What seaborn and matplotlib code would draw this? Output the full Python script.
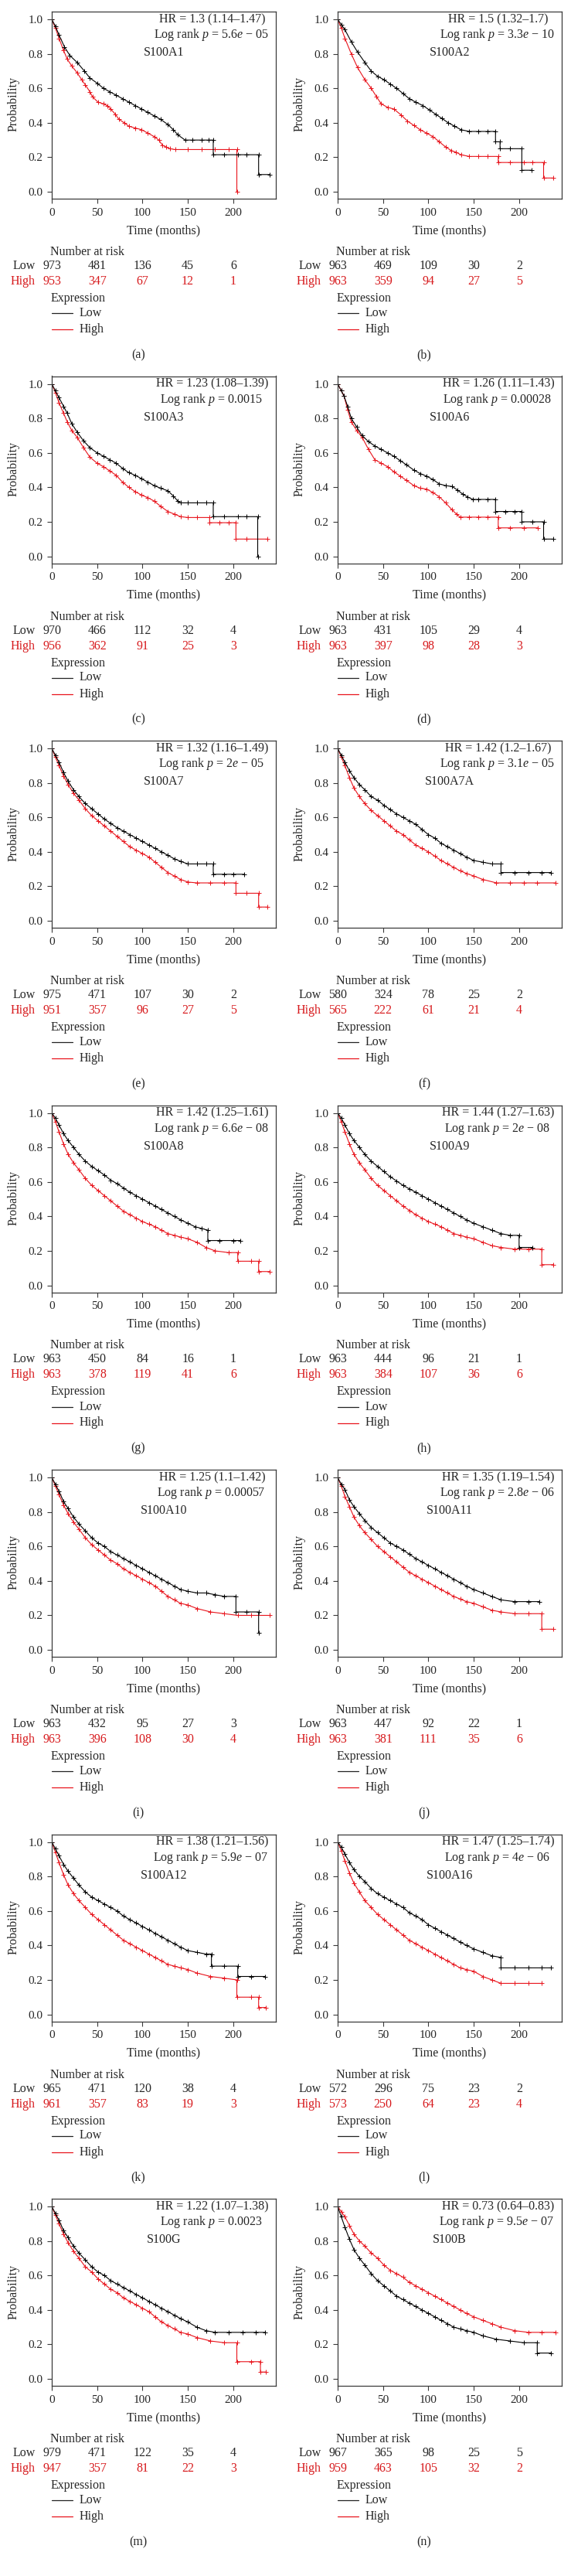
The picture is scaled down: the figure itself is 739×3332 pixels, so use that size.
import matplotlib
matplotlib.use("Agg")
import matplotlib.pyplot as plt
import matplotlib.transforms as mtransforms
import seaborn as sns
import pandas as pd

# ---------------- data ----------------
genes = ["S100A1", "S100A2", "S100A3", "S100A6", "S100A7", "S100A7A", "S100A8",
         "S100A9", "S100A10", "S100A11", "S100A12", "S100A16", "S100G", "S100B"]
panel_letters = ["(a)", "(b)", "(c)", "(d)", "(e)", "(f)", "(g)", "(h)", "(i)", "(j)",
                 "(k)", "(l)", "(m)", "(n)"]
hr_values = ["1.3 (1.14–1.47)", "1.5 (1.32–1.7)", "1.23 (1.08–1.39)", "1.26 (1.11–1.43)",
             "1.32 (1.16–1.49)", "1.42 (1.2–1.67)", "1.42 (1.25–1.61)", "1.44 (1.27–1.63)",
             "1.25 (1.1–1.42)", "1.35 (1.19–1.54)", "1.38 (1.21–1.56)", "1.47 (1.25–1.74)",
             "1.22 (1.07–1.38)", "0.73 (0.64–0.83)"]
p_values = ["5.6$e$ − 05", "3.3$e$ − 10", "0.0015", "0.00028", "2$e$ − 05", "3.1$e$ − 05",
            "6.6$e$ − 08", "2$e$ − 08", "0.00057", "2.8$e$ − 06", "5.9$e$ − 07", "4$e$ − 06",
            "0.0023", "9.5$e$ − 07"]
risk_times = [0, 50, 100, 150, 200]
risk_low = [[973, 481, 136, 45, 6], [963, 469, 109, 30, 2], [970, 466, 112, 32, 4],
            [963, 431, 105, 29, 4], [975, 471, 107, 30, 2], [580, 324, 78, 25, 2],
            [963, 450, 84, 16, 1], [963, 444, 96, 21, 1], [963, 432, 95, 27, 3],
            [963, 447, 92, 22, 1], [965, 471, 120, 38, 4], [572, 296, 75, 23, 2],
            [979, 471, 122, 35, 4], [967, 365, 98, 25, 5]]
risk_high = [[953, 347, 67, 12, 1], [963, 359, 94, 27, 5], [956, 362, 91, 25, 3],
             [963, 397, 98, 28, 3], [951, 357, 96, 27, 5], [565, 222, 61, 21, 4],
             [963, 378, 119, 41, 6], [963, 384, 107, 36, 6], [963, 396, 108, 30, 4],
             [963, 381, 111, 35, 6], [961, 357, 83, 19, 3], [573, 250, 64, 23, 4],
             [947, 357, 81, 22, 3], [959, 463, 105, 32, 2]]

# survival curves: (time in months, probability)
a_low = [(0,1.0),(4,.96),(8,.91),(14,.84),(20,.79),(28,.75),(36,.70),(42,.66),(50,.63),(57,.60),(64,.58),(71,.56),(78,.54),(85,.52),(92,.50),(99,.48),(106,.46),(113,.44),(120,.42),(128,.39),(134,.36),(139,.33),(147,.30),(155,.30),(165,.30),(173,.30),(178,.30),(178,.215),(190,.215),(205,.215),(215,.215),(228,.215),(228,.10),(240,.10)]
a_high = [(0,1.0),(4,.95),(8,.89),(13,.82),(17,.77),(22,.73),(28,.69),(33,.65),(37,.62),(42,.58),(45,.55),(51,.52),(57,.51),(61,.50),(65,.48),(70,.45),(74,.42),(80,.40),(85,.38),(92,.37),(99,.36),(106,.34),(113,.32),(118,.30),(122,.27),(126,.26),(130,.25),(136,.245),(150,.245),(165,.245),(180,.245),(195,.245),(204,.245),(204,0.0)]
b_low = [(0,1.0),(4,.97),(8,.94),(15,.87),(22,.81),(30,.75),(37,.70),(44,.67),(51,.65),(58,.625),(65,.60),(72,.57),(79,.54),(86,.52),(94,.50),(101,.475),(108,.45),(115,.425),(122,.40),(129,.38),(136,.36),(145,.35),(155,.35),(165,.35),(174,.35),(174,.29),(179,.29),(179,.25),(190,.25),(203,.25),(203,.125),(214,.125)]
b_high = [(0,1.0),(4,.95),(8,.89),(15,.80),(22,.72),(30,.65),(37,.60),(43,.55),(48,.51),(55,.49),(62,.48),(70,.445),(77,.41),(84,.385),(91,.36),(98,.34),(105,.32),(112,.29),(119,.26),(125,.24),(130,.23),(136,.215),(145,.205),(155,.205),(165,.205),(177,.205),(177,.17),(190,.17),(205,.17),(215,.17),(227,.17),(227,.08),(238,.08)]
c_low = [(0,1.0),(4,.96),(8,.92),(13,.87),(17,.83),(22,.77),(28,.72),(35,.67),(42,.63),(50,.60),(57,.58),(64,.56),(71,.54),(78,.51),(85,.485),(92,.47),(99,.45),(106,.43),(113,.41),(120,.395),(128,.38),(134,.35),(139,.32),(142,.31),(150,.31),(160,.31),(170,.31),(178,.31),(178,.23),(190,.23),(205,.23),(215,.23),(227,.23),(227,0.0)]
c_high = [(0,1.0),(4,.95),(8,.89),(13,.83),(17,.78),(22,.73),(28,.69),(35,.63),(42,.575),(50,.54),(57,.52),(64,.495),(71,.47),(78,.43),(85,.40),(92,.375),(99,.355),(106,.34),(113,.32),(120,.29),(128,.26),(135,.245),(142,.23),(150,.225),(160,.225),(174,.225),(174,.195),(185,.195),(195,.195),(203,.195),(203,.10),(215,.10),(238,.10)]
d_low = [(0,1.0),(4,.96),(7,.93),(11,.87),(15,.80),(21,.75),(27,.70),(34,.665),(41,.64),(48,.62),(55,.60),(62,.58),(69,.555),(76,.53),(84,.50),(91,.48),(98,.465),(105,.445),(112,.42),(119,.41),(126,.405),(132,.385),(138,.36),(143,.345),(149,.33),(155,.33),(165,.33),(174,.33),(174,.26),(185,.26),(195,.26),(203,.26),(203,.20),(215,.20),(227,.20),(227,.10),(238,.10)]
d_high = [(0,1.0),(4,.96),(7,.93),(11,.85),(15,.78),(21,.73),(27,.69),(34,.62),(41,.56),(48,.54),(55,.52),(62,.49),(69,.465),(76,.44),(84,.41),(91,.395),(98,.39),(105,.37),(112,.345),(119,.31),(126,.27),(131,.245),(135,.227),(145,.227),(155,.227),(165,.227),(177,.227),(177,.165),(190,.165),(205,.165),(221,.165)]
e_low = [(0,1.0),(4,.96),(8,.92),(13,.86),(18,.81),(24,.76),(30,.72),(37,.68),(44,.65),(51,.62),(58,.59),(65,.565),(72,.54),(79,.52),(86,.50),(93,.48),(100,.46),(107,.44),(114,.42),(121,.40),(128,.38),(135,.36),(142,.345),(150,.33),(160,.33),(170,.33),(178,.33),(178,.27),(190,.27),(200,.27),(212,.27)]
e_high = [(0,1.0),(4,.95),(8,.90),(13,.84),(18,.79),(24,.74),(30,.70),(37,.65),(44,.61),(51,.58),(58,.55),(65,.52),(72,.49),(79,.46),(86,.43),(93,.41),(100,.39),(107,.37),(114,.34),(121,.31),(128,.28),(135,.26),(142,.24),(150,.225),(160,.22),(175,.22),(190,.22),(203,.22),(203,.16),(215,.16),(228,.16),(228,.08),(238,.08)]
f_low = [(0,1.0),(4,.96),(8,.92),(13,.87),(18,.83),(24,.79),(30,.76),(37,.72),(44,.70),(51,.67),(58,.645),(65,.62),(72,.60),(79,.58),(86,.56),(93,.53),(100,.50),(107,.48),(114,.45),(121,.43),(128,.41),(135,.39),(142,.37),(150,.35),(160,.34),(170,.33),(180,.33),(180,.28),(195,.28),(210,.28),(225,.28),(235,.28)]
f_high = [(0,1.0),(4,.95),(8,.90),(13,.83),(18,.77),(24,.72),(30,.68),(37,.64),(44,.61),(51,.58),(58,.55),(65,.52),(72,.50),(79,.47),(86,.44),(93,.42),(100,.40),(107,.375),(114,.35),(121,.33),(128,.31),(135,.29),(142,.275),(150,.26),(160,.24),(175,.22),(190,.22),(205,.22),(220,.22),(240,.22)]
g_low = [(0,1.0),(4,.97),(8,.93),(13,.88),(18,.84),(24,.80),(30,.76),(37,.72),(44,.69),(51,.665),(58,.64),(65,.61),(72,.59),(79,.565),(86,.54),(93,.52),(100,.50),(107,.48),(114,.46),(121,.44),(128,.42),(135,.40),(142,.38),(150,.36),(158,.34),(165,.33),(172,.32),(172,.26),(185,.26),(200,.26),(208,.26)]
g_high = [(0,1.0),(4,.95),(8,.89),(13,.82),(18,.76),(24,.71),(30,.67),(37,.62),(44,.58),(51,.55),(58,.52),(65,.49),(72,.46),(79,.43),(86,.41),(93,.39),(100,.37),(107,.355),(114,.34),(121,.32),(128,.30),(135,.29),(142,.28),(150,.27),(160,.25),(170,.22),(180,.20),(195,.19),(205,.19),(205,.14),(220,.14),(228,.14),(228,.08),(240,.08)]
h_low = [(0,1.0),(4,.97),(8,.93),(13,.88),(18,.84),(24,.80),(30,.76),(37,.72),(44,.69),(51,.66),(58,.63),(65,.605),(72,.58),(79,.56),(86,.54),(93,.52),(100,.50),(107,.48),(114,.46),(121,.44),(128,.42),(135,.40),(142,.38),(150,.36),(160,.34),(170,.32),(180,.30),(190,.29),(200,.29),(200,.22),(215,.22)]
h_high = [(0,1.0),(4,.95),(8,.89),(13,.82),(18,.76),(24,.71),(30,.67),(37,.62),(44,.58),(51,.55),(58,.52),(65,.49),(72,.46),(79,.435),(86,.41),(93,.39),(100,.37),(107,.355),(114,.34),(121,.32),(128,.30),(135,.29),(142,.28),(150,.27),(160,.25),(170,.23),(180,.22),(195,.21),(210,.21),(225,.21),(225,.12),(238,.12)]
i_low = [(0,1.0),(4,.96),(8,.92),(13,.86),(18,.82),(24,.77),(30,.73),(37,.69),(44,.65),(51,.62),(58,.60),(65,.57),(72,.55),(79,.53),(86,.51),(93,.49),(100,.47),(107,.45),(114,.43),(121,.41),(128,.39),(135,.37),(142,.35),(150,.34),(160,.33),(170,.33),(180,.32),(190,.31),(203,.31),(203,.22),(215,.22),(228,.22),(228,.10)]
i_high = [(0,1.0),(4,.95),(8,.90),(13,.84),(18,.79),(24,.74),(30,.70),(37,.65),(44,.61),(51,.58),(58,.55),(65,.52),(72,.50),(79,.47),(86,.45),(93,.43),(100,.41),(107,.39),(114,.37),(121,.34),(128,.31),(135,.29),(142,.27),(150,.26),(160,.24),(175,.22),(190,.21),(205,.20),(220,.20),(240,.20)]
j_low = [(0,1.0),(4,.96),(8,.93),(13,.87),(18,.83),(24,.79),(30,.75),(37,.71),(44,.68),(51,.65),(58,.62),(65,.60),(72,.58),(79,.555),(86,.53),(93,.51),(100,.49),(107,.47),(114,.45),(121,.43),(128,.41),(135,.39),(142,.37),(150,.35),(160,.33),(170,.31),(180,.29),(195,.28),(210,.28),(222,.28)]
j_high = [(0,1.0),(4,.95),(8,.89),(13,.83),(18,.77),(24,.72),(30,.68),(37,.64),(44,.60),(51,.57),(58,.54),(65,.51),(72,.48),(79,.45),(86,.43),(93,.41),(100,.39),(107,.37),(114,.35),(121,.33),(128,.31),(135,.295),(142,.28),(150,.27),(160,.25),(170,.23),(180,.22),(195,.21),(210,.21),(225,.21),(225,.12),(238,.12)]
k_low = [(0,1.0),(4,.96),(8,.92),(13,.87),(18,.83),(24,.79),(30,.75),(37,.71),(44,.68),(51,.66),(58,.64),(65,.62),(72,.60),(79,.57),(86,.55),(93,.53),(100,.51),(107,.49),(114,.47),(121,.45),(128,.43),(135,.41),(142,.39),(150,.37),(160,.36),(170,.35),(176,.35),(176,.28),(190,.28),(205,.28),(205,.22),(220,.22),(235,.22)]
k_high = [(0,1.0),(4,.94),(8,.88),(13,.81),(18,.75),(24,.70),(30,.66),(37,.62),(44,.58),(51,.55),(58,.52),(65,.49),(72,.46),(79,.43),(86,.41),(93,.39),(100,.37),(107,.35),(114,.33),(121,.31),(128,.29),(135,.28),(142,.27),(150,.26),(160,.24),(175,.22),(190,.21),(204,.20),(204,.10),(220,.10),(228,.10),(228,.04),(236,.04)]
l_low = [(0,1.0),(4,.97),(8,.93),(13,.88),(18,.84),(24,.80),(30,.77),(37,.73),(44,.70),(51,.68),(58,.66),(65,.64),(72,.62),(79,.59),(86,.57),(93,.55),(100,.52),(107,.50),(114,.48),(121,.46),(128,.44),(135,.42),(142,.40),(150,.38),(160,.36),(170,.34),(180,.33),(180,.27),(195,.27),(210,.27),(225,.27),(235,.27)]
l_high = [(0,1.0),(4,.95),(8,.89),(13,.82),(18,.76),(24,.71),(30,.66),(37,.62),(44,.58),(51,.55),(58,.52),(65,.49),(72,.46),(79,.43),(86,.41),(93,.39),(100,.37),(107,.35),(114,.33),(121,.31),(128,.29),(135,.27),(142,.26),(150,.25),(160,.22),(170,.20),(180,.18),(195,.18),(210,.18),(225,.18)]
m_low = [(0,1.0),(4,.96),(8,.92),(13,.86),(18,.82),(24,.77),(30,.73),(37,.69),(44,.65),(51,.62),(58,.60),(65,.57),(72,.55),(79,.53),(86,.51),(93,.49),(100,.47),(107,.45),(114,.43),(121,.41),(128,.39),(135,.37),(142,.35),(150,.33),(160,.30),(170,.28),(180,.27),(195,.27),(210,.27),(225,.27),(235,.27)]
m_high = [(0,1.0),(4,.95),(8,.90),(13,.84),(18,.79),(24,.74),(30,.70),(37,.65),(44,.62),(51,.58),(58,.55),(65,.52),(72,.50),(79,.47),(86,.45),(93,.43),(100,.41),(107,.39),(114,.36),(121,.33),(128,.31),(135,.29),(142,.27),(150,.26),(160,.24),(175,.22),(190,.21),(204,.21),(204,.10),(220,.10),(230,.10),(230,.04),(236,.04)]
n_low = [(0,1.0),(4,.94),(8,.88),(13,.81),(18,.75),(24,.70),(30,.66),(37,.61),(44,.57),(51,.54),(58,.51),(65,.48),(72,.46),(79,.44),(86,.42),(93,.40),(100,.38),(107,.36),(114,.34),(121,.32),(128,.30),(135,.29),(142,.28),(150,.27),(160,.25),(175,.23),(190,.22),(205,.21),(220,.21),(220,.15),(235,.15)]
n_high = [(0,1.0),(4,.97),(8,.94),(13,.89),(18,.84),(24,.80),(30,.77),(37,.73),(44,.70),(51,.66),(58,.63),(65,.61),(72,.59),(79,.56),(86,.54),(93,.52),(100,.50),(107,.48),(114,.46),(121,.44),(128,.42),(135,.40),(142,.38),(150,.36),(160,.34),(170,.32),(180,.30),(195,.28),(210,.27),(225,.27),(240,.27)]

low_curves = [a_low, b_low, c_low, d_low, e_low, f_low, g_low, h_low, i_low, j_low,
              k_low, l_low, m_low, n_low]
high_curves = [a_high, b_high, c_high, d_high, e_high, f_high, g_high, h_high, i_high,
               j_high, k_high, l_high, m_high, n_high]

# ---------------- style ----------------
sns.set_style("ticks")
plt.rcParams["font.family"] = ["Liberation Serif", "DejaVu Serif"]
plt.rcParams["mathtext.fontset"] = "custom"
plt.rcParams["mathtext.rm"] = "Liberation Serif"
plt.rcParams["mathtext.it"] = "Liberation Serif:italic"

W, H = 739, 3332
DPI = 100
RED_LINE = "#e8141c"
RED_TEXT = "#d7191c"
SPINE = "#3a3a3a"
FS = 11.5
TICK_FS = 11

fig = plt.figure(figsize=(W / DPI, H / DPI), dpi=DPI)
fig.patch.set_facecolor("white")

LEFTS = [67, 437]
TOP0 = 15
ROWSTEP = 471.5
AX_W, AX_H = 290, 242


def fy(y):
    return 1 - y / H


for i in range(14):
    row, col = divmod(i, 2)
    L = LEFTS[col]
    top = TOP0 + ROWSTEP * row
    B = top + AX_H
    ax = fig.add_axes([L / W, 1 - B / H, AX_W / W, AX_H / H])

    hi = pd.DataFrame(high_curves[i], columns=["t", "s"])
    lo = pd.DataFrame(low_curves[i], columns=["t", "s"])
    sns.lineplot(data=hi, x="t", y="s", estimator=None, sort=False, color=RED_LINE,
                 lw=0.8, marker="+", markersize=5, markeredgewidth=0.7,
                 markeredgecolor=RED_LINE, ax=ax)
    sns.lineplot(data=lo, x="t", y="s", estimator=None, sort=False, color="black",
                 lw=0.8, marker="+", markersize=5, markeredgewidth=0.7,
                 markeredgecolor="black", ax=ax)

    ax.set_xlim(0, 247)
    ax.set_ylim(-0.04, 1.045)
    ax.set_xticks(risk_times)
    ax.set_xticklabels([str(t) for t in risk_times], fontsize=TICK_FS)
    yt = [0.0, 0.2, 0.4, 0.6, 0.8, 1.0]
    ax.set_yticks(yt)
    ax.set_yticklabels([f"{v:.1f}" for v in yt], fontsize=TICK_FS)
    ax.set_xlabel("")
    ax.set_ylabel("")
    ax.tick_params(direction="out", length=4.3, width=0.8, color=SPINE, pad=4)
    for sp in ax.spines.values():
        sp.set_visible(True)
        sp.set_color(SPINE)
        sp.set_linewidth(0.9)

    # annotations inside
    ax.text(0.717, 0.959, f"HR = {hr_values[i]}", transform=ax.transAxes,
            ha="center", va="center", fontsize=FS)
    ax.text(0.71, 0.876, f"Log rank $p$ = {p_values[i]}", transform=ax.transAxes,
            ha="center", va="center", fontsize=FS)
    ax.text(0.5, 0.78, genes[i], transform=ax.transAxes, ha="center", va="center",
            fontsize=FS)

    # axis labels
    fig.text((L - 49) / W, fy(top + 120), "Probability", rotation=90, ha="center",
             va="center", fontsize=FS)
    fig.text((L + 145) / W, fy(B + 41), "Time (months)", ha="center", va="center",
             fontsize=FS)

    # number at risk table
    bt = mtransforms.blended_transform_factory(ax.transData, fig.transFigure)
    fig.text((L - 2) / W, fy(B + 69), "Number at risk", ha="left", va="center",
             fontsize=FS)
    fig.text((L - 21) / W, fy(B + 87), "Low", ha="right", va="center", fontsize=FS)
    fig.text((L - 21) / W, fy(B + 107), "High", ha="right", va="center", fontsize=FS,
             color=RED_TEXT)
    for t, nl, nh in zip(risk_times, risk_low[i], risk_high[i]):
        ax.text(t, fy(B + 87), str(nl), transform=bt, ha="center", va="center",
                fontsize=FS, clip_on=False)
        ax.text(t, fy(B + 107), str(nh), transform=bt, ha="center", va="center",
                fontsize=FS, color=RED_TEXT, clip_on=False)

    # legend
    fig.text((L - 1) / W, fy(B + 129), "Expression", ha="left", va="center", fontsize=FS)
    fig.add_artist(plt.Line2D([L / W, (L + 27) / W], [fy(B + 148), fy(B + 148)],
                              color="#222222", lw=0.9))
    fig.add_artist(plt.Line2D([L / W, (L + 27) / W], [fy(B + 169), fy(B + 169)],
                              color=RED_LINE, lw=0.9))
    fig.text((L + 36) / W, fy(B + 148), "Low", ha="left", va="center", fontsize=FS)
    fig.text((L + 36) / W, fy(B + 169), "High", ha="left", va="center", fontsize=FS)

    # panel letter
    fig.text((L + 112) / W, fy(B + 202), panel_letters[i], ha="center", va="center",
             fontsize=FS)

fig.savefig("out.png", dpi=DPI, facecolor="white")
